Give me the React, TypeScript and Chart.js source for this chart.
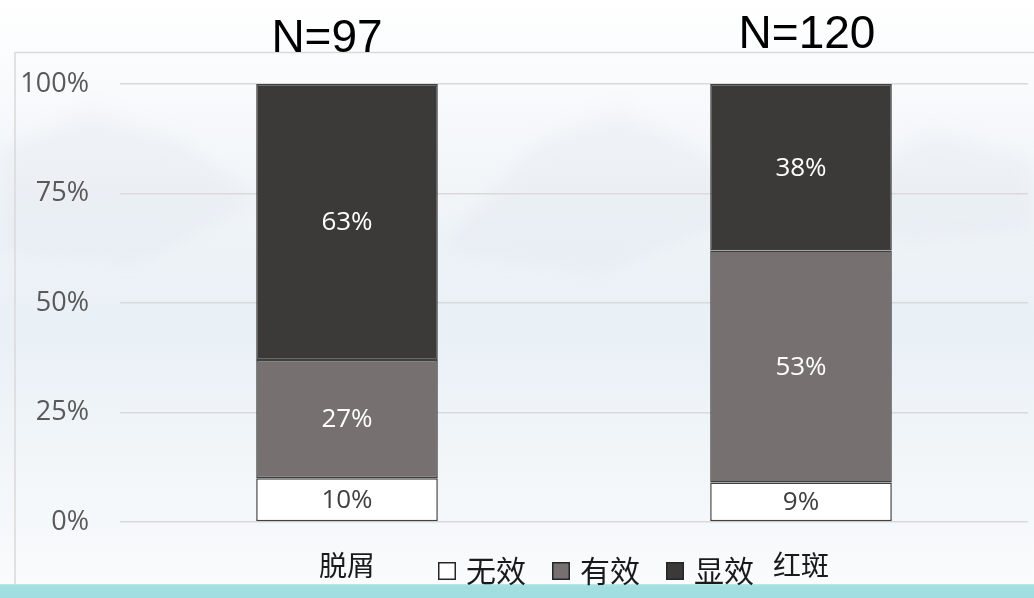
import React, { useEffect, useRef } from "react";
import { Chart, registerables } from "chart.js";

Chart.register(...registerables);

const categories = ["脱屑", "红斑"];
const sampleSizes = ["N=97", "N=120"];
const seriesNames = ["无效", "有效", "显效"];
const noEffect = [10, 9];
const effective = [27, 53];
const markedEffect = [63, 38];
const seriesColors = ["#ffffff", "#767170", "#3b3a39"];
const labelColors = ["#404040", "#ffffff", "#ffffff"];
const yTicks = [0, 25, 50, 75, 100];

const decorPlugin = {
  id: "decor",
  beforeDraw(chart: any) {
    const { ctx, width, height } = chart;
    ctx.save();
    const g = ctx.createLinearGradient(0, 0, 0, height);
    g.addColorStop(0, "#ffffff");
    g.addColorStop(0.15, "#f8fafc");
    g.addColorStop(0.4, "#eef3f7");
    g.addColorStop(0.55, "#e9f0f6");
    g.addColorStop(0.78, "#f2f6f9");
    g.addColorStop(0.97, "#f9fbfc");
    ctx.fillStyle = g;
    ctx.fillRect(0, 0, width, height);
    // faint snowy mountains
    ctx.filter = "blur(10px)";
    ctx.fillStyle = "rgba(175,192,208,0.09)";
    const mts = [
      [[0, 150], [90, 110], [180, 140], [260, 200], [140, 260], [0, 250]],
      [[440, 250], [540, 140], [620, 110], [700, 150], [760, 210], [600, 270]],
      [[840, 200], [930, 130], [1034, 160], [1034, 230], [900, 240]],
    ];
    for (const m of mts) {
      ctx.beginPath();
      m.forEach((p, i) => (i ? ctx.lineTo(p[0], p[1]) : ctx.moveTo(p[0], p[1])));
      ctx.closePath();
      ctx.fill();
    }
    ctx.filter = "none";
    // frame
    ctx.strokeStyle = "#d9d9d9";
    ctx.lineWidth = 1.5;
    ctx.beginPath();
    ctx.moveTo(15, 586);
    ctx.lineTo(15, 52.5);
    ctx.lineTo(width, 52.5);
    ctx.stroke();
    // teal band
    const tg = ctx.createLinearGradient(0, 583, 0, height);
    tg.addColorStop(0, "#c9eeee");
    tg.addColorStop(0.2, "#a3dfe1");
    tg.addColorStop(1, "#a0dde0");
    ctx.fillStyle = tg;
    ctx.fillRect(0, 584, width, height - 584);
    // N labels
    const xs = chart.scales.x;
    ctx.fillStyle = "#000000";
    ctx.font = "46px 'Liberation Sans', Arial, sans-serif";
    ctx.textAlign = "center";
    ctx.textBaseline = "alphabetic";
    const off = [-20, 6];
    const base = [52, 48];
    sampleSizes.forEach((s, i) => {
      ctx.fillText(s, xs.getPixelForValue(i) + off[i], base[i]);
    });
    ctx.restore();
  },
  afterDatasetsDraw(chart: any) {
    const { ctx } = chart;
    ctx.save();
    ctx.font = "26px 'Open Sans', sans-serif";
    ctx.textAlign = "center";
    ctx.textBaseline = "middle";
    chart.data.datasets.forEach((ds: any, di: number) => {
      const meta = chart.getDatasetMeta(di);
      meta.data.forEach((el: any, i: number) => {
        const p = el.getProps(["x", "y", "base"], true);
        ctx.fillStyle = labelColors[di];
        ctx.fillText(ds.data[i] + "%", p.x, (p.y + p.base) / 2 + 1);
      });
    });
    // legend
    ctx.font = "30px 'Noto Sans CJK SC', sans-serif";
    ctx.textAlign = "left";
    let x = 438;
    const cy = 571;
    chart.data.datasets.forEach((ds: any) => {
      ctx.fillStyle = ds.backgroundColor;
      ctx.fillRect(x, cy - 9, 18, 18);
      ctx.strokeStyle = "#262626";
      ctx.lineWidth = 1.5;
      ctx.strokeRect(x + 0.75, cy - 8.25, 16.5, 16.5);
      ctx.fillStyle = "#1a1a1a";
      ctx.fillText(ds.label, x + 28, cy);
      const w = ctx.measureText(ds.label).width;
      x += 28 + w + 26;
    });
    ctx.restore();
  },
};

export default function App() {
  const ref = useRef<HTMLCanvasElement>(null);
  useEffect(() => {
    if (!ref.current) return;
    const values = [noEffect, effective, markedEffect];
    const chart = new Chart(ref.current, {
      type: "bar",
      data: {
        labels: categories,
        datasets: seriesNames.map((n, i) => ({
          label: n,
          data: values[i],
          backgroundColor: seriesColors[i],
          borderColor: "#404040",
          borderWidth: 1.5,
          borderSkipped: false,
          categoryPercentage: 1,
          barPercentage: 0.4,
        })),
      },
      options: {
        responsive: false,
        animation: false,
        layout: { padding: { top: 84, right: 6, left: 0, bottom: 0 } },
        plugins: { legend: { display: false }, tooltip: { enabled: false } },
        scales: {
          x: {
            stacked: true,
            grid: { display: false },
            border: { display: false },
            ticks: {
              color: "#1a1a1a",
              font: { family: "'Noto Sans CJK SC', sans-serif", size: 28 },
              padding: 19,
            },
            afterFit(s: any) {
              s.height = 76;
            },
          },
          y: {
            stacked: true,
            min: 0,
            max: 100,
            afterBuildTicks(s: any) {
              s.ticks = yTicks.map((v) => ({ value: v }));
            },
            grid: { color: "#d9d9d9", lineWidth: 1.5, drawTicks: false },
            border: { display: false },
            ticks: {
              color: "#595959",
              font: { family: "'Open Sans', sans-serif", size: 27 },
              padding: 31,
              callback: (v: any) => v + "%",
            },
            afterFit(s: any) {
              s.width = 120;
            },
          },
        },
      },
      plugins: [decorPlugin],
    });
    return () => chart.destroy();
  }, []);
  return (
    <div style={{ position: "fixed", left: 0, top: 0, width: 1034, height: 598 }}>
      <canvas ref={ref} width={1034} height={598} style={{ display: "block" }} />
    </div>
  );
}
